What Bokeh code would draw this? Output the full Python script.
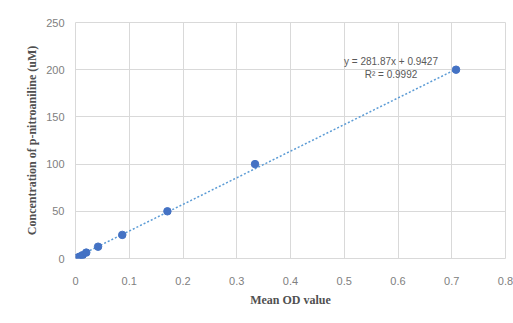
from bokeh.plotting import figure
from bokeh.models import FixedTicker, Label
from bokeh.embed import file_html
from bokeh.resources import INLINE

# Data
mean_od = [0.004, 0.008, 0.013, 0.020, 0.042, 0.087, 0.171, 0.334, 0.708]
concentration = [1.0, 2.0, 3.5, 6.25, 12.5, 25.0, 50.0, 100.0, 200.0]
slope = 281.87
intercept = 0.9427
r_squared = 0.9992
x_ticks = [0, 0.1, 0.2, 0.3, 0.4, 0.5, 0.6, 0.7, 0.8]
y_ticks = [0, 50, 100, 150, 200, 250]

p = figure(width=513, height=323, output_backend="svg", toolbar_location=None,
           x_range=(0, 0.8), y_range=(0, 250),
           min_border_left=75, min_border_right=8, min_border_top=22, min_border_bottom=65)

grid_color = "#d9d9d9"
p.xgrid.grid_line_color = grid_color
p.ygrid.grid_line_color = grid_color
p.outline_line_color = grid_color
p.xaxis.ticker = FixedTicker(ticks=x_ticks)
p.yaxis.ticker = FixedTicker(ticks=y_ticks)
p.xaxis.major_label_overrides = {t: ("0" if t == 0 else f"{t:g}") for t in x_ticks}
for ax in (p.xaxis, p.yaxis):
    ax.axis_line_color = None
    ax.major_tick_line_color = None
    ax.minor_tick_line_color = None
    ax.major_label_text_color = "#808080"
    ax.major_label_text_font = "Liberation Sans"
    ax.major_label_text_font_size = "11px"
    ax.axis_label_text_font = "Liberation Serif"
    ax.axis_label_text_font_style = "bold"
    ax.axis_label_text_font_size = "12px"
    ax.axis_label_text_color = "#505050"
p.xaxis.major_label_standoff = 12
p.yaxis.major_label_standoff = 5
p.xaxis.axis_label = "Mean OD value"
p.yaxis.axis_label = "Concentration of p-nitroaniline (uM)"
p.xaxis.axis_label_standoff = 5
p.yaxis.axis_label_standoff = 4

# trendline
x0, x1 = 0.0, max(mean_od)
p.line([x0, x1], [slope * x0 + intercept, slope * x1 + intercept],
       line_color="#5b9bd5", line_width=1.5, line_dash="2 2")

p.scatter(mean_od, concentration, size=7.5, fill_color="#4472c4", line_color="#4472c4")

eq_style = dict(text_font_size="10px", text_color="#595959", text_align="center",
                text_baseline="middle", text_font="Liberation Sans")
p.add_layout(Label(x=0.587, y=209, text=f"y = {slope}x + {intercept}", **eq_style))
p.add_layout(Label(x=0.587, y=195, text=f"R\u00b2 = {r_squared}", **eq_style))

open("out.html", "w").write(file_html(p, INLINE))
